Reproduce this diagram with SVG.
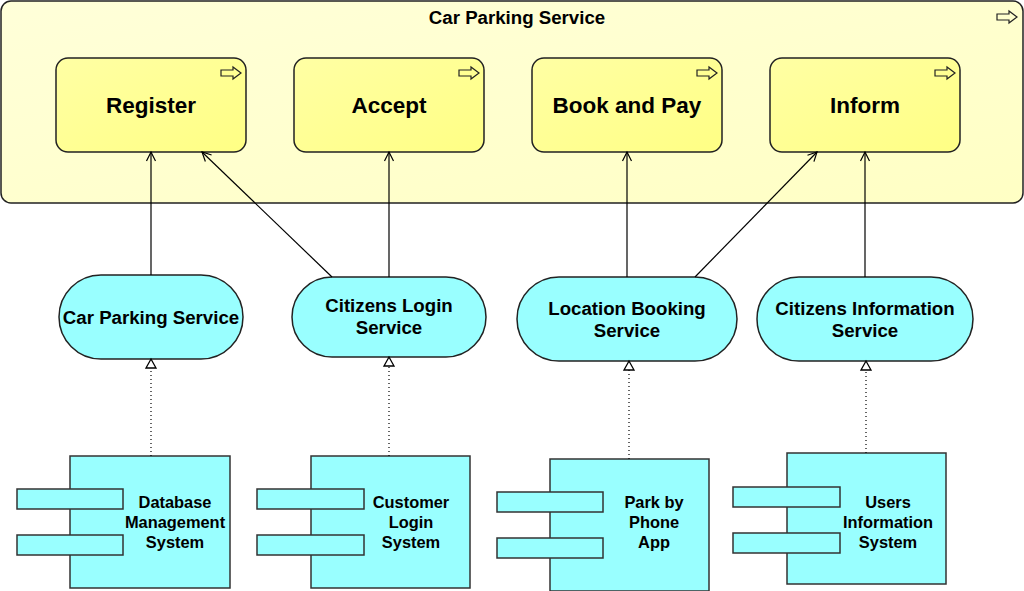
<svg xmlns="http://www.w3.org/2000/svg" width="1024" height="591" viewBox="0 0 1024 591">
<defs>
<linearGradient id="gOuter" x1="0" y1="0" x2="1" y2="1">
<stop offset="0" stop-color="#ffffd9"/>
<stop offset="1" stop-color="#ffffc4"/>
</linearGradient>
<linearGradient id="gInner" x1="0" y1="0" x2="1" y2="1">
<stop offset="0" stop-color="#ffffa4"/>
<stop offset="1" stop-color="#ffff84"/>
</linearGradient>
<marker id="open" markerUnits="userSpaceOnUse" markerWidth="12" markerHeight="12" refX="10" refY="6" orient="auto">
<path d="M1,1.5 L10,6 L1,10.5" fill="none" stroke="#000" stroke-width="1.2"/>
</marker>
<marker id="tri" markerUnits="userSpaceOnUse" markerWidth="14" markerHeight="14" refX="11" refY="7" orient="auto">
<path d="M2,2 L11,7 L2,12 Z" fill="#fff" stroke="#000" stroke-width="1.3"/>
</marker>
<path id="proc" d="M0,3 H12 V0 L20,6 L12,12 V9 H0 Z"/>
</defs>
<style>
.outer{fill:url(#gOuter);stroke:#222;stroke-width:1.5}
.proc{fill:url(#gInner);stroke:#222;stroke-width:1.5}
.icon{fill:none;stroke:#222;stroke-width:1.2}
.svc{fill:#99ffff;stroke:#222;stroke-width:1.5}
.comp{fill:#99ffff;stroke:#333;stroke-width:1.5}
.t{font-family:"Liberation Sans",Arial,sans-serif;font-weight:bold;fill:#000;text-anchor:middle}
.big{font-size:22.5px}
.mid{font-size:18.67px}
.sm{font-size:16.4px}
.serve{stroke:#000;stroke-width:1.2;fill:none;marker-end:url(#open)}
.real{stroke:#000;stroke-width:1.2;fill:none;stroke-dasharray:1 3;marker-end:url(#tri)}
</style>

<g id="car-parking-service-group">
<rect class="outer" x="1" y="1" width="1022" height="202" rx="10"/>
<use href="#proc" class="icon" x="997" y="11"/>
<text class="t mid" x="517" y="24">Car Parking Service</text>
</g>

<g id="register">
<rect class="proc" x="56" y="58" width="190" height="94" rx="12"/>
<use href="#proc" class="icon" x="221" y="67"/>
<text class="t big" x="151" y="113">Register</text>
</g>
<g id="accept">
<rect class="proc" x="294" y="58" width="190" height="94" rx="12"/>
<use href="#proc" class="icon" x="459" y="67"/>
<text class="t big" x="389" y="113">Accept</text>
</g>
<g id="book-and-pay">
<rect class="proc" x="532" y="58" width="190" height="94" rx="12"/>
<use href="#proc" class="icon" x="697" y="67"/>
<text class="t big" x="627" y="113">Book and Pay</text>
</g>
<g id="inform">
<rect class="proc" x="770" y="58" width="190" height="94" rx="12"/>
<use href="#proc" class="icon" x="935" y="67"/>
<text class="t big" x="865" y="113">Inform</text>
</g>

<g id="svc-car-parking">
<rect class="svc" x="59" y="275" width="184" height="84" rx="42"/>
<text class="t mid" x="151" y="324">Car Parking Service</text>
</g>
<g id="svc-citizens-login">
<rect class="svc" x="292" y="277" width="194" height="80" rx="40"/>
<text class="t mid" x="389" y="312">Citizens Login</text>
<text class="t mid" x="389" y="334">Service</text>
</g>
<g id="svc-location-booking">
<rect class="svc" x="517" y="277" width="220" height="84" rx="42"/>
<text class="t mid" x="627" y="315">Location Booking</text>
<text class="t mid" x="627" y="337">Service</text>
</g>
<g id="svc-citizens-information">
<rect class="svc" x="757" y="277" width="216" height="84" rx="42"/>
<text class="t mid" x="865" y="315">Citizens Information</text>
<text class="t mid" x="865" y="337">Service</text>
</g>

<g id="comp-database">
<rect class="comp" x="70" y="456" width="160" height="132"/>
<rect class="comp" x="17" y="489" width="106" height="20"/>
<rect class="comp" x="17" y="535" width="106" height="20"/>
<text class="t sm" x="175" y="508">Database</text>
<text class="t sm" x="175" y="528">Management</text>
<text class="t sm" x="175" y="548">System</text>
</g>
<g id="comp-customer-login">
<rect class="comp" x="311" y="456" width="159" height="132"/>
<rect class="comp" x="257" y="489" width="107" height="20"/>
<rect class="comp" x="257" y="535" width="107" height="20"/>
<text class="t sm" x="411" y="508">Customer</text>
<text class="t sm" x="411" y="528">Login</text>
<text class="t sm" x="411" y="548">System</text>
</g>
<g id="comp-park-by-phone">
<rect class="comp" x="550" y="459" width="159" height="132"/>
<rect class="comp" x="497" y="492" width="106" height="20"/>
<rect class="comp" x="497" y="538" width="106" height="20"/>
<text class="t sm" x="654" y="508">Park by</text>
<text class="t sm" x="654" y="528">Phone</text>
<text class="t sm" x="654" y="548">App</text>
</g>
<g id="comp-users-information">
<rect class="comp" x="787" y="453" width="159" height="131"/>
<rect class="comp" x="733" y="487" width="107" height="20"/>
<rect class="comp" x="733" y="533" width="107" height="20"/>
<text class="t sm" x="888" y="508">Users</text>
<text class="t sm" x="888" y="528">Information</text>
<text class="t sm" x="888" y="548">System</text>
</g>

<g id="connectors">
<line class="serve" x1="151" y1="275" x2="151" y2="152"/>
<line class="serve" x1="332" y1="277" x2="202" y2="152"/>
<line class="serve" x1="389" y1="277" x2="389" y2="152"/>
<line class="serve" x1="627" y1="277" x2="627" y2="152"/>
<line class="serve" x1="695" y1="277" x2="817" y2="152"/>
<line class="serve" x1="865" y1="277" x2="865" y2="152"/>
<line class="real" x1="151" y1="456" x2="151" y2="359"/>
<line class="real" x1="389" y1="456" x2="389" y2="357"/>
<line class="real" x1="629" y1="459" x2="629" y2="361"/>
<line class="real" x1="866" y1="453" x2="866" y2="361"/>
</g>
</svg>
